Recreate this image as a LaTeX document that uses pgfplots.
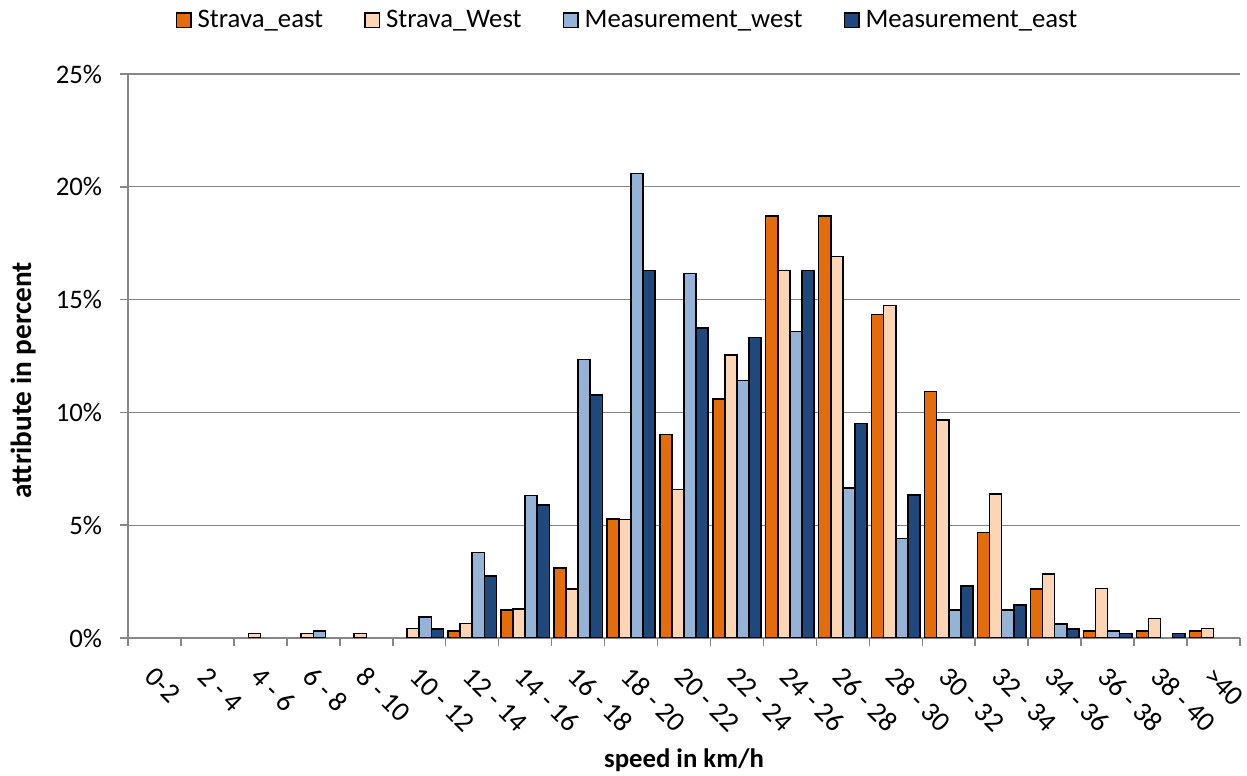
\documentclass[border=0pt]{standalone}
\usepackage{fontspec}
\setmainfont{Carlito}
\usepackage{pgfplots}
\pgfplotsset{compat=1.18}
\definecolor{cSe}{RGB}{228,108,10}
\definecolor{cSw}{RGB}{252,213,181}
\definecolor{cMw}{RGB}{149,179,215}
\definecolor{cMe}{RGB}{31,73,125}
\definecolor{axgray}{RGB}{134,134,134}
\begin{document}
\begin{tikzpicture}
\useasboundingbox (-51.2pt,-55.2pt) rectangle (447.6pt,255.2pt);
\begin{axis}[
  scale only axis,
  width=444.8pt, height=225.6pt,
  font=\fontsize{10.7}{12.8}\selectfont,
  ybar=0pt, bar width=4.84pt,
  xmin=-0.5, xmax=20.5, ymin=0, ymax=25,
  axis x line*=bottom, axis y line*=left,
  axis line style={axgray, line width=0.6pt},
  ymajorgrids, grid style={axgray, line width=0.55pt},
  ytick={0,5,10,15,20,25},
  yticklabels={0\%,5\%,10\%,15\%,20\%,25\%},
  xtick={0,...,20},
  xticklabels={0-2,2 - 4,4 - 6,6 - 8,8 - 10,10 - 12,12 - 14,14 - 16,16 - 18,18 - 20,20 - 22,22 - 24,24 - 26,26 - 28,28 - 30,30 - 32,32 - 34,34 - 36,36 - 38,38 - 40,>40},
  minor xtick={-0.5,0.5,...,20.5},
  tick align=outside,
  major tick length=3.2pt, minor tick length=3.2pt,
  major x tick style={draw=none},
  minor x tick style={axgray, line width=0.6pt},
  ytick style={axgray, line width=0.6pt},
  xticklabel style={xshift=0.8pt, yshift=-7.4pt, rotate=-45, anchor=north west, inner sep=0pt, font=\fontsize{11.2}{13.4}\selectfont},
  yticklabel style={anchor=east, inner sep=0pt, xshift=-7pt},
  xlabel={\bfseries speed in km/h},
  xlabel style={at={(axis description cs:0.5,0)}, anchor=center, yshift=-48.8pt},
  ylabel={\bfseries attribute in percent},
  ylabel style={at={(axis description cs:0,0.457)}, anchor=center, yshift=41.6pt, font=\fontsize{11.7}{14}\selectfont},
  legend columns=4,
  legend style={draw=none, fill=none, at={(axis description cs:0.451,1)}, anchor=center, yshift=21.4pt,
    /tikz/every even column/.append style={column sep=14pt},
    nodes={inner xsep=2.4pt, inner ysep=0pt}},
  legend image code/.code={\draw[#1, line width=0.6pt] (0pt,-2.9pt) rectangle (5.8pt,2.9pt);},
  every axis plot/.append style={draw=black, line width=0.6pt},
]
\addplot[fill=cSe] coordinates {(6,0.3) (7,1.23) (8,3.11) (9,5.28) (10,9.02) (11,10.59) (12,18.70) (13,18.70) (14,14.33) (15,10.92) (16,4.67) (17,2.17) (18,0.3) (19,0.3) (20,0.3)};
\addplot[fill=cSw] coordinates {(2,0.21) (3,0.21) (4,0.21) (5,0.41) (6,0.65) (7,1.29) (8,2.17) (9,5.25) (10,6.58) (11,12.54) (12,16.29) (13,16.92) (14,14.73) (15,9.67) (16,6.38) (17,2.84) (18,2.19) (19,0.86) (20,0.43)};
\addplot[fill=cMw] coordinates {(3,0.3) (5,0.93) (6,3.79) (7,6.32) (8,12.35) (9,20.58) (10,16.15) (11,11.41) (12,13.59) (13,6.64) (14,4.42) (15,1.24) (16,1.24) (17,0.62) (18,0.3)};
\addplot[fill=cMe] coordinates {(5,0.4) (6,2.74) (7,5.9) (8,10.78) (9,16.29) (10,13.74) (11,13.33) (12,16.29) (13,9.51) (14,6.33) (15,2.31) (16,1.46) (17,0.4) (18,0.21) (19,0.21)};
\legend{Strava\_east,Strava\_West,Measurement\_west,Measurement\_east}
\end{axis}
\end{tikzpicture}
\end{document}
